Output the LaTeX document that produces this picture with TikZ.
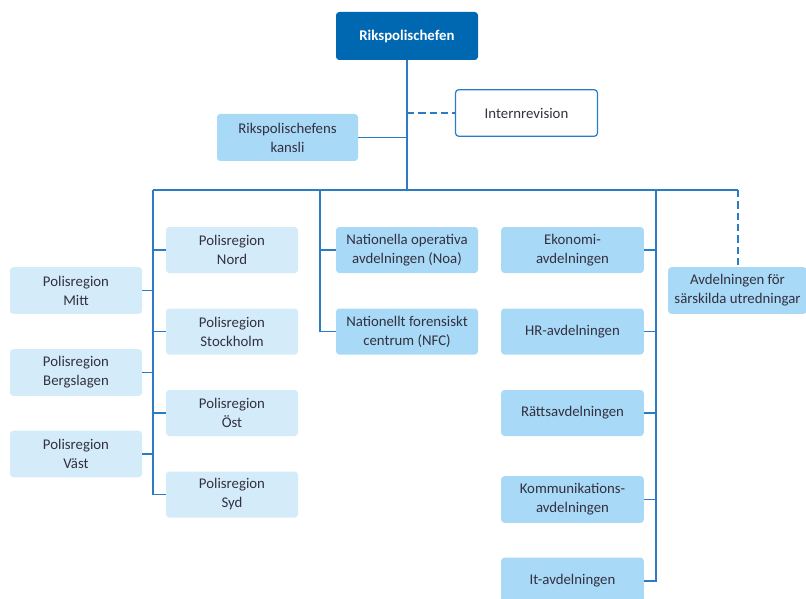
\documentclass[tikz,border=0pt]{standalone}
\usepackage{fontspec}
\setmainfont{Carlito}
\definecolor{dblue}{HTML}{0067B1}
\definecolor{lineblue}{HTML}{2B7CC4}
\definecolor{midfill}{HTML}{A8D9F6}
\definecolor{lightfill}{HTML}{D4ECFA}
\definecolor{txt}{HTML}{33303F}
\begin{document}
\begin{tikzpicture}[x=0.75pt,y=-0.75pt,
  box/.style={rounded corners=2.5pt,align=center,inner sep=0pt,font=\fontsize{11.1}{14.2}\selectfont,text=txt},
  midbox/.style={box,fill=midfill},
  lightbox/.style={box,fill=lightfill},
  conn/.style={draw=lineblue,line width=1.1pt},
  dconn/.style={conn,dash pattern=on 5.5pt off 3pt}]
\useasboundingbox (0,0) rectangle (806,599);
\fill[white] (0,0) rectangle (806,599);
% top
\node[box,fill=dblue,text=white,font=\fontsize{11.1}{14.2}\selectfont\bfseries,minimum width=106.5pt,minimum height=36pt] (top) at (407,36) {Rikspolischefen};
\node[box,fill=white,draw=lineblue,line width=0.9pt,minimum width=106.5pt,minimum height=35pt] (intrev) at (526.5,113) {Internrevision};
\node[midbox,minimum width=105.75pt,minimum height=35.25pt] (kansli) at (287.5,137.5) {Rikspolischefens\\kansli};
% polisregioner
\node[lightbox,minimum width=99pt,minimum height=34.5pt] (nord) at (232,250) {Polisregion\\Nord};
\node[lightbox,minimum width=99pt,minimum height=34.5pt] (sthlm) at (232,331.5) {Polisregion\\Stockholm};
\node[lightbox,minimum width=99pt,minimum height=34.5pt] (ost) at (232,413) {Polisregion\\Öst};
\node[lightbox,minimum width=99pt,minimum height=34.5pt] (syd) at (232,494.5) {Polisregion\\Syd};
\node[lightbox,minimum width=99pt,minimum height=35pt] (mitt) at (76,290.5) {Polisregion\\Mitt};
\node[lightbox,minimum width=99pt,minimum height=35pt] (berg) at (76,372.5) {Polisregion\\Bergslagen};
\node[lightbox,minimum width=99pt,minimum height=35pt] (vast) at (76,454) {Polisregion\\Väst};
% national
\node[midbox,minimum width=106.5pt,minimum height=34.5pt] (noa) at (407,250) {Nationella operativa\\avdelningen (Noa)};
\node[midbox,minimum width=106.5pt,minimum height=34.5pt] (nfc) at (407,331.5) {Nationellt forensiskt\\centrum (NFC)};
% avdelningar
\node[midbox,minimum width=107pt,minimum height=34.5pt] (ekon) at (572.5,250) {Ekonomi-\\avdelningen};
\node[midbox,minimum width=107pt,minimum height=34.5pt] (hr) at (572.5,331.5) {HR-avdelningen};
\node[midbox,minimum width=107pt,minimum height=34.5pt] (ratt) at (572.5,413) {Rättsavdelningen};
\node[midbox,minimum width=107pt,minimum height=35pt] (komm) at (572.5,499.5) {Kommunikations-\\avdelningen};
\node[midbox,minimum width=107pt,minimum height=35pt] (it) at (572.5,581) {It-avdelningen};
\node[midbox,minimum width=104pt,minimum height=35pt] (sarsk) at (737.5,290.5) {Avdelningen för\\särskilda utredningar};
% bus coordinates
\coordinate (bc) at (407,190);
\coordinate (bl) at (153,190);
\coordinate (bm) at (320,190);
\coordinate (br) at (656,190);
\coordinate (bd) at (738,190);
\coordinate (lbot) at (153,494.5);
% connectors
\draw[conn] (top.south) -- (bc);
\draw[dconn] (407,113) -- (intrev.west);
\draw[conn] (kansli.east) -- (407,137.5);
\draw[conn] (bl) -- (br) -- (bd);
\draw[conn] (bl) -- (lbot);
\draw[conn] (nord.west) -- (nord.west -| bl);
\draw[conn] (sthlm.west) -- (sthlm.west -| bl);
\draw[conn] (ost.west) -- (ost.west -| bl);
\draw[conn] (syd.west) -- (lbot);
\draw[conn] (mitt.east) -- (mitt.east -| bl);
\draw[conn] (berg.east) -- (berg.east -| bl);
\draw[conn] (vast.east) -- (vast.east -| bl);
\draw[conn] (bm) |- (nfc.west);
\draw[conn] (noa.west) -- (noa.west -| bm);
\draw[conn] (br) |- (it.east);
\draw[conn] (ekon.east) -- (ekon.east -| br);
\draw[conn] (hr.east) -- (hr.east -| br);
\draw[conn] (ratt.east) -- (ratt.east -| br);
\draw[conn] (komm.east) -- (komm.east -| br);
\draw[dconn] (bd) -- (sarsk.north -| bd);
\end{tikzpicture}
\end{document}
